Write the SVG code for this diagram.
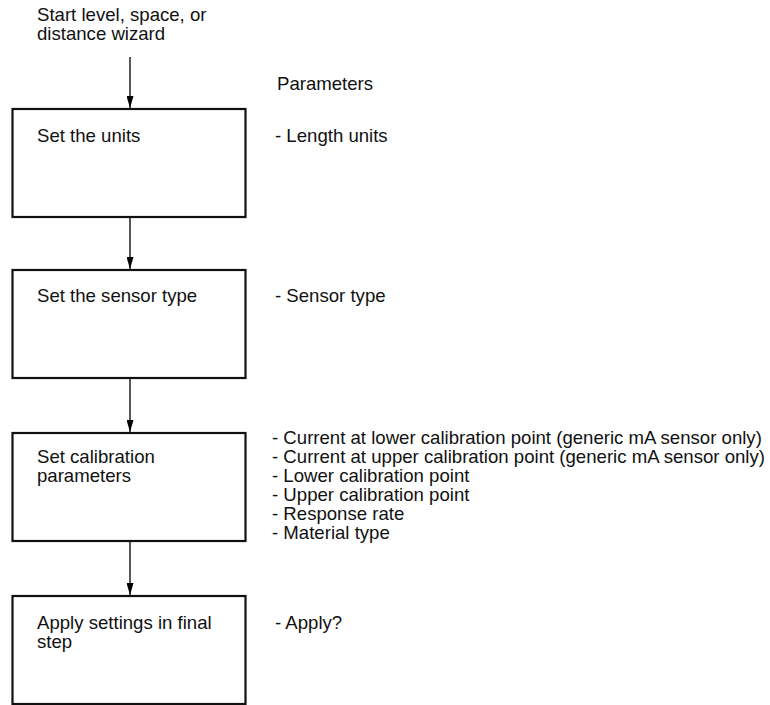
<svg xmlns="http://www.w3.org/2000/svg" width="770" height="705" viewBox="0 0 770 705">
<defs>
<marker id="ah" viewBox="0 0 12 7" refX="12" refY="3.5" markerWidth="12" markerHeight="7" markerUnits="userSpaceOnUse" orient="auto">
<path d="M0,0 L12,3.5 L0,7 Z" fill="#000"/>
</marker>
<style>
text{font-family:"Liberation Sans",Arial,sans-serif;font-size:18.6px;fill:#111}
.box{fill:#fff;stroke:#111;stroke-width:2.2}
.conn{stroke:#111;stroke-width:1.4;fill:none;marker-end:url(#ah)}
</style>
</defs>
<rect width="770" height="705" fill="#fff"/>
<g id="start"><text x="37" y="21">Start level, space, or</text><text x="37" y="40">distance wizard</text></g>
<g id="params-header"><text x="277" y="90">Parameters</text></g>
<g id="connectors">
<line class="conn" x1="130" y1="57" x2="130" y2="108"/>
<line class="conn" x1="130" y1="218" x2="130" y2="269"/>
<line class="conn" x1="130" y1="379" x2="130" y2="432"/>
<line class="conn" x1="130" y1="542" x2="130" y2="595"/>
</g>
<g id="n1"><rect class="box" x="12.5" y="109" width="233" height="108"/><text x="37" y="142">Set the units</text><text x="275" y="142">- Length units</text></g>
<g id="n2"><rect class="box" x="12.5" y="270" width="233" height="108"/><text x="37" y="302">Set the sensor type</text><text x="275" y="302">- Sensor type</text></g>
<g id="n3"><rect class="box" x="12.5" y="433" width="233" height="108"/><text x="37" y="463">Set calibration</text><text x="37" y="482">parameters</text>
<text x="272" y="444">- Current at lower calibration point (generic mA sensor only)</text>
<text x="272" y="463">- Current at upper calibration point (generic mA sensor only)</text>
<text x="272" y="482">- Lower calibration point</text>
<text x="272" y="501">- Upper calibration point</text>
<text x="272" y="520">- Response rate</text>
<text x="272" y="539">- Material type</text></g>
<g id="n4"><rect class="box" x="12.5" y="596" width="233" height="108"/><text x="37" y="629">Apply settings in final</text><text x="37" y="648">step</text><text x="275" y="629">- Apply?</text></g>
</svg>
